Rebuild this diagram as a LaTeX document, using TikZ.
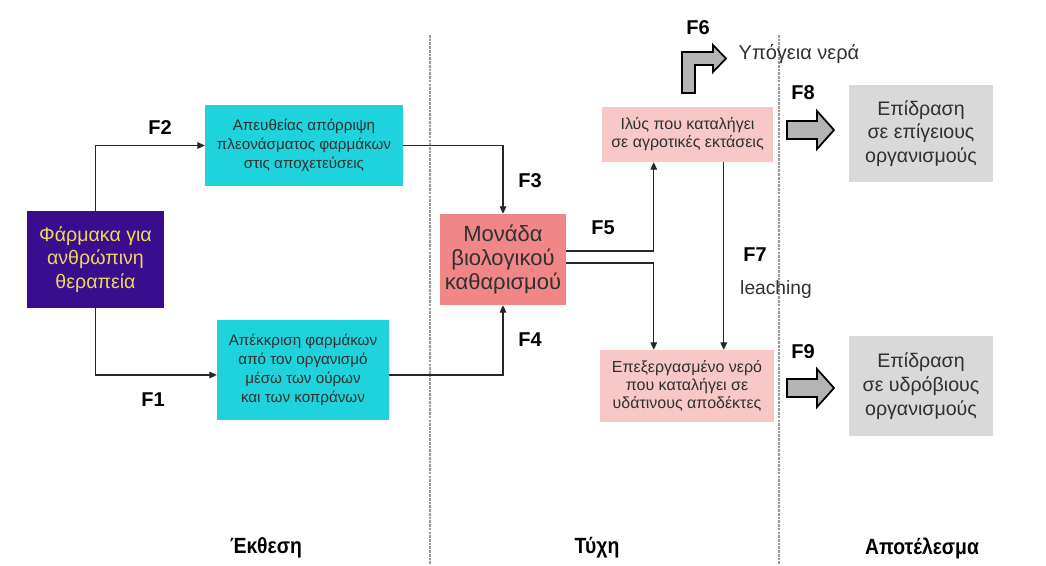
\documentclass[tikz,border=0pt]{standalone}
\usepackage{fontspec}
\setmainfont{Liberation Sans}
\usetikzlibrary{arrows.meta,calc}
\definecolor{drugpurple}{HTML}{3A0C8E}
\definecolor{drugyellow}{HTML}{EED85A}
\definecolor{cyanbox}{HTML}{1ED3DB}
\definecolor{salmonbox}{HTML}{F08686}
\definecolor{pinkbox}{HTML}{F8C8C8}
\definecolor{greybox}{HTML}{D9D9D9}
\definecolor{fatgrey}{HTML}{B4B4B4}
\definecolor{boxtext}{HTML}{303030}
\tikzset{
  box/.style={inner sep=0pt, align=center, text=boxtext},
  smalltext/.style={font=\fontsize{11.4}{14.3}\selectfont},
  pinktext/.style={font=\fontsize{12}{13.5}\selectfont},
  bigtext/.style={font=\fontsize{14.7}{17.8}\selectfont},
  plantext/.style={font=\fontsize{16.5}{17.8}\selectfont},
  flabel/.style={font=\fontsize{15}{18}\selectfont\bfseries, text=black},
  conn/.style={line width=0.8pt, draw=black!85, -{Triangle[length=5.5pt,width=5pt]}},
  fat/.style={draw=black, line width=1.3pt, fill=fatgrey, line join=miter},
  divider/.style={draw=black!40, line width=0.9pt, dash pattern=on 2pt off 0.8pt},
  section/.style={font=\fontsize{16.5}{18}\selectfont\bfseries\addfontfeatures{FakeStretch=0.88}, text=black}
}
\begin{document}
\begin{tikzpicture}[x=0.75pt,y=-0.75pt]
\useasboundingbox (0,0) rectangle (1046,565);

% column dividers
\draw[divider] (430,35) -- (430,565);
\draw[divider] (779,35) -- (779,565);

% boxes
\node[box, fill=drugpurple, text=drugyellow, bigtext, minimum width=137*0.75pt, minimum height=97*0.75pt]
  (drugs) at (95.5,259.5) {Φάρμακα για\\ανθρώπινη\\θεραπεία};
\node[box, fill=cyanbox, smalltext, minimum width=198*0.75pt, minimum height=81*0.75pt]
  (direct) at (304,145.5) {Απευθείας απόρριψη\\πλεονάσματος φαρμάκων\\στις αποχετεύσεις};
\node[box, fill=cyanbox, smalltext, minimum width=172*0.75pt, minimum height=100*0.75pt]
  (excr) at (303,370) {Απέκκριση φαρμάκων\\από τον οργανισμό\\μέσω των ούρων\\και των κοπράνων};
\node[box, fill=salmonbox, plantext, minimum width=126*0.75pt, minimum height=91*0.75pt]
  (plant) at (503,259.5) {Μονάδα\\βιολογικού\\καθαρισμού};
\node[box, fill=pinkbox, pinktext, minimum width=171*0.75pt, minimum height=55*0.75pt]
  (sludge) at (687.5,134.5) {Ιλύς που καταλήγει\\σε αγροτικές εκτάσεις};
\node[box, fill=pinkbox, pinktext, minimum width=174*0.75pt, minimum height=72*0.75pt]
  (water) at (687,386) {Επεξεργασμένο νερό\\που καταλήγει σε\\υδάτινους αποδέκτες};
\node[box, fill=greybox, bigtext, minimum width=144*0.75pt, minimum height=97*0.75pt]
  (land) at (921,133.5) {Επίδραση\\σε επίγειους\\οργανισμούς};
\node[box, fill=greybox, bigtext, minimum width=144*0.75pt, minimum height=100*0.75pt]
  (aqua) at (921,386) {Επίδραση\\σε υδρόβιους\\οργανισμούς};

% connectors
\draw[conn] (drugs.north) |- (direct.west);
\draw[conn] (drugs.south) |- ($(excr.west)+(0,5)$);
\draw[conn] (direct.east) -| (plant.north);
\draw[conn] ($(excr.east)+(0,5)$) -| (plant.south);
\coordinate (split) at ($(sludge.south west)+(52,0)$);
\draw[conn] ($(plant.east)+(0,-8.5)$) -| (split);
\draw[conn] ($(plant.east)+(0,3.5)$) -| (split |- water.north);
\coordinate (leachtop) at ($(sludge.south west)+(122,0)$);
\draw[conn] (leachtop) -- (leachtop |- water.north);

% bent arrow towards groundwater
\draw[fat] (682,93) -- (682,52) -- (713,52) -- (713,45) -- (726,58.5) -- (713,72)
  -- (713,65) -- (695,65) -- (695,93) -- cycle;
\node[anchor=west, font=\fontsize{15}{17}\selectfont, text=boxtext] (ground) at (734,54) {Υπόγεια νερά};

% block arrows towards effects
\draw[fat] (787,121) -- (817,121) -- (817,111) -- (834,130) -- (817,149) -- (817,139) -- (787,139) -- cycle;
\draw[fat] (787,379) -- (817,379) -- (817,369) -- (834,388) -- (817,407) -- (817,397) -- (787,397) -- cycle;

% flow labels
\node[flabel] (f1) at (153,400) {F1};
\node[flabel] (f2) at (160,128) {F2};
\node[flabel] (f3) at (530,181) {F3};
\node[flabel] (f4) at (530,340) {F4};
\node[flabel] (f5) at (603,228) {F5};
\node[flabel] (f6) at (698,28) {F6};
\node[flabel] (f7) at (755,255) {F7};
\node[flabel] (f8) at (803,93) {F8};
\node[flabel] (f9) at (803,352) {F9};
\node[font=\fontsize{14.4}{16}\selectfont, text=boxtext] (leach) at (776,290) {leaching};

% column titles
\node[section] (expo) at (266,548) {Έκθεση};
\node[section] (fate) at (597,548) {Τύχη};
\node[section] (effect) at (922,548) {Αποτέλεσμα};
\end{tikzpicture}
\end{document}
